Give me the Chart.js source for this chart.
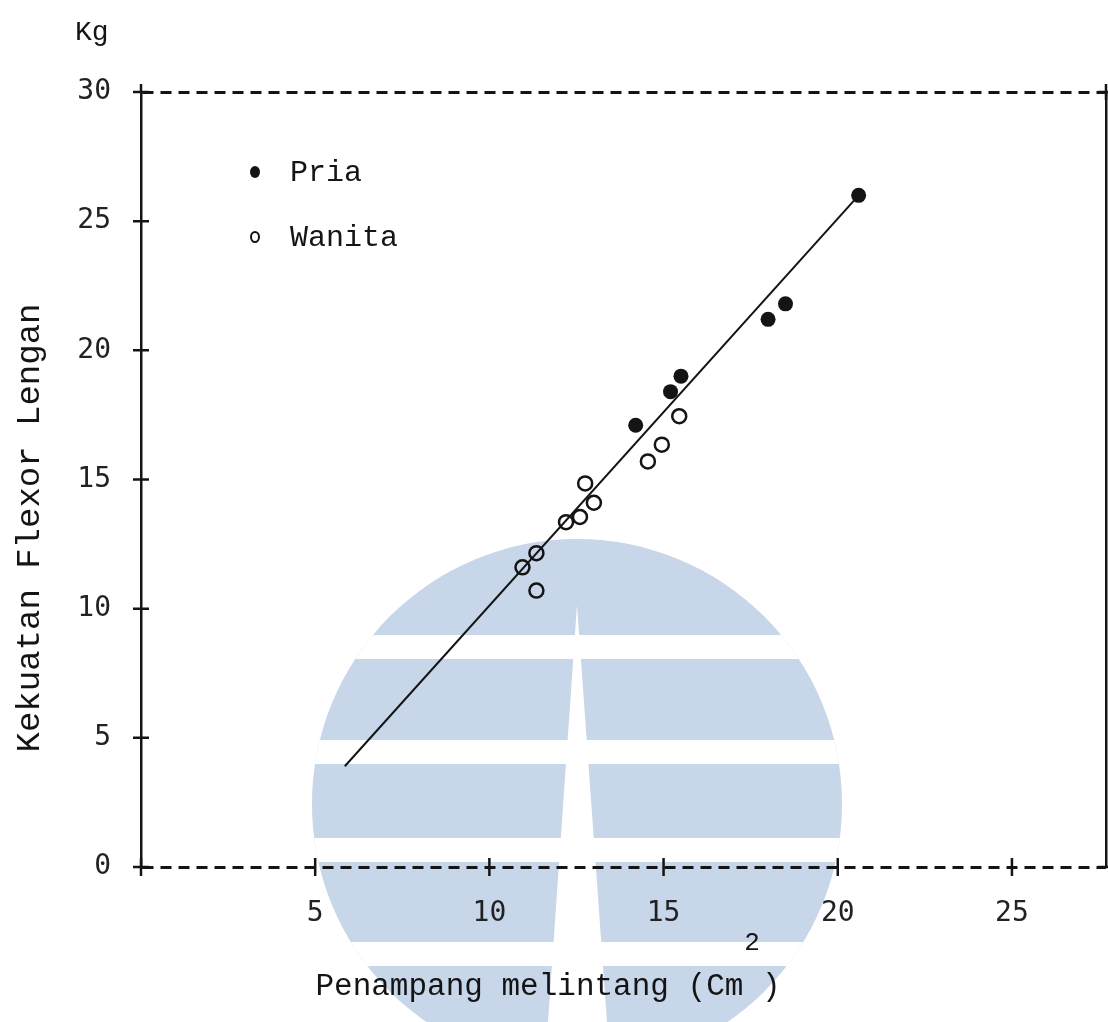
<!DOCTYPE html>
<html>
<head>
<meta charset="utf-8">
<title>Kekuatan Flexor Lengan</title>
<script src="https://cdn.jsdelivr.net/npm/chart.js@4.4.1/dist/chart.umd.min.js"></script>
<style>
  html, body { margin: 0; padding: 0; background: #fff; }
</style>
</head>
<body>
<canvas id="myChart" width="1108" height="1022"></canvas>
<script>
// values
const priaX = [14.2, 15.2, 15.5, 18.0, 18.5, 20.6];
const priaY = [17.1, 18.4, 19.0, 21.2, 21.8, 26.0];
const wanitaX = [10.95, 11.35, 11.35, 12.2, 12.6, 12.75, 13.0, 14.55, 14.95, 15.45];
const wanitaY = [11.6, 10.7, 12.15, 13.35, 13.55, 14.85, 14.1, 15.7, 16.35, 17.45];
// regression line, end points
const lineX = [5.85, 20.6];
const lineY = [3.9, 26.0];
const legendLabels = ['Pria', 'Wanita'];
const xTitle = 'Penampang melintang (Cm )';
const yTitle = 'Kekuatan Flexor Lengan';
const yUnit = 'Kg';

const ink = '#141414';
const mono = '"Liberation Mono", "DejaVu Sans Mono", monospace';

function toPoints (xs, ys) {
  return xs.map((v, i) => ({ x: v, y: ys[i] }));
}

/**
 * faint logo watermark that sits behind the scanned figure
 */
const watermark = {
  id: 'watermark',
  beforeDraw (chart) {
    const ctx = chart.ctx;
    ctx.save();
    ctx.fillStyle = '#fff';
    ctx.fillRect(0, 0, chart.width, chart.height);
    ctx.beginPath();
    ctx.arc(577, 804, 265, 0, Math.PI * 2);
    ctx.clip();
    ctx.fillStyle = 'rgb(199, 214, 233)';
    ctx.fillRect(0, 0, chart.width, chart.height);
    ctx.fillStyle = '#fff';
    [635, 740, 838, 942].forEach(y0 => ctx.fillRect(0, y0, chart.width, 24));
    ctx.beginPath();
    ctx.moveTo(577, 605);
    ctx.lineTo(607, 1022);
    ctx.lineTo(548, 1022);
    ctx.closePath();
    ctx.fill();
    ctx.restore();
  }
};

/**
 * typewriter style "+" marks on the axes, the legend and the axis titles
 */
const decor = {
  id: 'decor',
  afterDraw (chart) {
    const { ctx, chartArea: a, scales: { x, y } } = chart;
    ctx.save();
    ctx.strokeStyle = ink;
    ctx.lineWidth = 2.5;
    ctx.beginPath();
    x.ticks.forEach(t => {
      const px = x.getPixelForValue(t.value);
      ctx.moveTo(px, a.bottom - 9);
      ctx.lineTo(px, a.bottom + 9);
    });
    y.ticks.forEach(t => {
      const py = y.getPixelForValue(t.value);
      ctx.moveTo(a.left - 8, py);
      ctx.lineTo(a.left + 8, py);
    });
    ctx.moveTo(a.left, a.top - 8);
    ctx.lineTo(a.left, a.top);
    [a.top, a.bottom].forEach(py => {
      ctx.moveTo(a.right - 8, py);
      ctx.lineTo(a.right + 8, py);
    });
    ctx.moveTo(a.right, a.top - 8);
    ctx.lineTo(a.right, a.top + 8);
    ctx.stroke();

    // legend inside the plot
    const lx = a.left + 114;
    const ly = a.top + 80;
    ctx.fillStyle = ink;
    ctx.beginPath();
    ctx.ellipse(lx, ly, 5, 6, 0, 0, Math.PI * 2);
    ctx.fill();
    ctx.lineWidth = 2;
    ctx.beginPath();
    ctx.ellipse(lx, ly + 65, 4, 5, 0, 0, Math.PI * 2);
    ctx.stroke();
    ctx.font = '30px ' + mono;
    ctx.textAlign = 'left';
    ctx.textBaseline = 'middle';
    ctx.fillText(legendLabels[0], lx + 35, ly + 1);
    ctx.fillText(legendLabels[1], lx + 35, ly + 66);

    // axis titles
    ctx.font = '28px ' + mono;
    ctx.textBaseline = 'alphabetic';
    ctx.fillText(yUnit, a.left - 66, 40);

    ctx.font = '31px ' + mono;
    ctx.textAlign = 'center';
    ctx.fillText(xTitle, 548, a.bottom + 128);
    ctx.font = '26px ' + mono;
    ctx.fillText('2', 752, a.bottom + 83);

    ctx.translate(30, 528);
    ctx.rotate(-Math.PI / 2);
    ctx.font = '34px ' + mono;
    ctx.textBaseline = 'middle';
    ctx.fillText(yTitle, 0, 0);
    ctx.restore();
  }
};

const tickFont = { family: '"DejaVu Sans Mono", monospace', size: 28 };

// only the frame lines at 0 and 30 are shown, dashed like the typed original
const frameOnly = (c) => (c.tick && (c.tick.value === 0 || c.tick.value === 30) ? ink : 'rgba(0,0,0,0)');

const config = {
  type: 'scatter',
  data: {
    datasets: [
      {
        label: 'garis',
        data: toPoints(lineX, lineY),
        showLine: true,
        borderColor: ink,
        borderWidth: 2,
        pointRadius: 0
      },
      {
        label: legendLabels[0],
        data: toPoints(priaX, priaY),
        backgroundColor: ink,
        borderColor: ink,
        borderWidth: 0,
        pointRadius: 7.5
      },
      {
        label: legendLabels[1],
        data: toPoints(wanitaX, wanitaY),
        backgroundColor: 'rgba(255,255,255,0)',
        borderColor: ink,
        borderWidth: 2.5,
        pointRadius: 7
      }
    ]
  },
  options: {
    responsive: false,
    animation: false,
    devicePixelRatio: 1,
    layout: { padding: 0, autoPadding: false },
    plugins: {
      legend: { display: false },
      tooltip: { enabled: false }
    },
    scales: {
      x: {
        type: 'linear',
        position: 'bottom',
        min: 0,
        max: 27.7,
        afterFit: (s) => { s.height = 155; s.paddingLeft = 0; s.paddingRight = 0; },
        grid: { display: false },
        border: { display: false },
        ticks: {
          stepSize: 5,
          includeBounds: false,
          padding: 22,
          maxRotation: 0,
          color: '#222',
          font: tickFont,
          callback: (v) => (v === 0 ? '' : v)
        }
      },
      x2: {
        type: 'linear',
        position: 'top',
        min: 0,
        max: 27.7,
        afterFit: (s) => { s.height = 92; s.paddingLeft = 0; s.paddingRight = 0; },
        grid: { display: false },
        border: { display: false },
        ticks: { display: false }
      },
      y: {
        type: 'linear',
        position: 'left',
        min: 0,
        max: 30,
        afterFit: (s) => { s.width = 141; s.paddingTop = 0; s.paddingBottom = 0; },
        grid: { display: true, drawTicks: false, color: frameOnly, lineWidth: 3 },
        border: { display: true, color: ink, width: 2.5, dash: [11, 7] },
        ticks: { stepSize: 5, padding: 30, color: '#222', font: tickFont }
      },
      y2: {
        type: 'linear',
        position: 'right',
        min: 0,
        max: 30,
        afterFit: (s) => { s.width = 2; s.paddingTop = 0; s.paddingBottom = 0; },
        grid: { display: false },
        border: { display: true, color: ink, width: 2.5 },
        ticks: { display: false }
      }
    }
  },
  plugins: [watermark, decor]
};

const myChart = new Chart(document.getElementById('myChart'), config);
</script>
</body>
</html>
